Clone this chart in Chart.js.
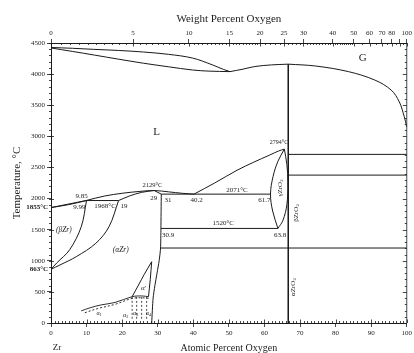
<!DOCTYPE html>
<html>
<head>
<meta charset="utf-8">
<script src="https://cdn.jsdelivr.net/npm/chart.js@4.4.0/dist/chart.umd.min.js"></script>
<style>
  html, body { margin: 0; padding: 0; background: #fff; }
  canvas { display: block; }
</style>
</head>
<body>
<canvas id="zro" width="414" height="353"></canvas>
<script>
// Zr–O phase diagram. Every boundary is a list of [atomic % O, temperature °C].

// Gas / liquid boundaries near the top
const gasDewLine     = [[0,4428],[6,4415],[12,4398],[19,4380],[26,4355],[33,4318],[39.8,4258],[45.3,4150],[48.5,4075],[50.3,4040]];
const gasBubbleLine  = [[0,4420],[6,4365],[12.2,4306],[19,4240],[26,4175],[33,4118],[39.8,4066],[44.4,4048],[50.3,4040]];
const gasOxideLine   = [[50.3,4040],[54,4080],[57.3,4122],[62,4148],[66.7,4160]];
const gasOxygenLine  = [[66.7,4160],[74.4,4130],[83.6,4040],[91,3905],[95.6,3745],[97.9,3555],[99.3,3315],[100,3150]];
const zirconiaLine   = [[66.7,4160],[66.7,0]];

// Metal-rich side
const liquidusBeta      = [[0,1855],[5,1912],[9.85,1968]];
const solidusBeta       = [[0,1855],[5,1903],[9.99,1968]];
const peritectic1968    = [[9.85,1968],[19,1968]];
const liquidusAlpha     = [[9.85,1968],[15,2040],[20,2085],[25,2115],[29,2129],[33,2108],[37,2084],[40.2,2071]];
const solidusAlpha      = [[19,1968],[22,2040],[25.5,2100],[29,2129]];
const solidusAlphaRight = [[29,2129],[31,2071]];
const betaSolvus        = [[9.99,1968],[8.5,1547],[5.25,1178],[1.6,964],[0,863]];
const alphaSolvusLeft   = [[19,1968],[16.3,1547],[12.6,1281],[7.1,1066],[2.5,932],[0,863]];
const alphaSolvusRight  = [[31,2071],[30.9,1520],[30.8,1205],[30.4,1000],[29.8,800],[29.2,600],[28.7,400],[28.3,0]];

// Invariant lines
const eutectic2071   = [[31,2071],[61.7,2071]];
const eutectoid1520  = [[30.9,1520],[63.8,1520]];
const oxideMelt2710  = [[66.7,2710],[100,2710]];
const oxide2377      = [[66.7,2377],[100,2377]];
const oxide1205      = [[30.8,1205],[100,1205]];

// Oxide liquidus and the γZrO2 field
const liquidusOxide  = [[40.2,2071],[46,2250],[52.3,2455],[57,2585],[61.5,2700],[64,2765],[65.6,2794]];
const gammaLeft      = [[65.6,2794],[63.8,2600],[62.4,2350],[61.7,2071],[62.3,1800],[63.8,1520]];
const gammaRight     = [[65.6,2794],[66.3,2550],[66.6,2250],[66.3,1900],[65.2,1650],[63.8,1520]];

// Low-temperature ordered suboxides
const alphaPrimeLeft  = [[28.3,985],[26.2,780],[24.6,610],[22.8,423]];
const alphaPrimeRight = [[28.3,985],[27.9,700],[27.4,423]];
const orderingSolid   = [[8.5,195],[11,245],[14,290],[18,330],[22.8,423],[25.5,435],[27.4,423]];
const orderingDashed  = [[9.5,165],[13,230],[18,300],[22.8,395],[25.5,405],[28,395]];
const orderingSplitComps = [22.8, 24.1, 25.5, 26.9];
const orderingSplitRange = [420, 70];

// Axis ticks
const tempTicks   = [0,500,1000,1500,2000,2500,3000,3500,4000,4500];
const atomicTicks = [0,10,20,30,40,50,60,70,80,90,100];
const weightTicks = [0,5,10,15,20,25,30,40,50,60,70,80,90,100];
const weightTickText = ['0','5','10','15','20','25','30','40','50','60','70','80','','100'];

// Molar masses for the weight-% scale
const M_ZR = 91.224, M_O = 15.999;
function weightToAtomic(w) {
  if (w >= 100) return 100;
  const nO = w / M_O, nZr = (100 - w) / M_ZR;
  return 100 * nO / (nO + nZr);
}

const xy = arr => arr.map(([x, y]) => ({x, y}));
const INK = '#1a1a1a';
const TXT = '#222';
const SERIF = '"Liberation Serif", "DejaVu Serif", serif';

function line(arr, opts = {}) {
  return Object.assign({
    data: xy(arr), showLine: true, pointRadius: 0, borderColor: INK,
    borderWidth: 1, tension: 0, fill: false
  }, opts);
}
const curve = (arr, o = {}) => line(arr, Object.assign({tension: 0.35}, o));

const datasets = [
  curve(gasDewLine), curve(gasBubbleLine), curve(gasOxideLine), curve(gasOxygenLine),
  line(zirconiaLine),
  curve(liquidusBeta), curve(solidusBeta), line(peritectic1968),
  curve(liquidusAlpha), curve(solidusAlpha), line(solidusAlphaRight),
  curve(betaSolvus), curve(alphaSolvusLeft), curve(alphaSolvusRight, {tension: 0.2}),
  line(eutectic2071), line(eutectoid1520), line(oxideMelt2710), line(oxide2377), line(oxide1205),
  curve(liquidusOxide), curve(gammaLeft), curve(gammaRight),
  curve(alphaPrimeLeft), curve(alphaPrimeRight),
  curve(orderingSolid, {borderWidth: 0.9}),
  curve(orderingDashed, {borderDash: [2, 2], borderWidth: 0.9}),
  ...orderingSplitComps.map(c => line([[c, orderingSplitRange[0]], [c, orderingSplitRange[1]]], {borderDash: [2, 2], borderWidth: 0.8}))
];

// Phase-field and invariant annotations, anchored in data coordinates
const phaseLabels = [
  {text: 'G', at: 87.6, T: 4254, size: 11},
  {text: 'L', at: 29.7, T: 3074, size: 11},
  {text: '2794°C', at: 64.1, T: 2909, size: 6},
  {text: '2129°C', at: 28.5, T: 2218, size: 6.5},
  {text: '9.85', at: 8.6, T: 2041},
  {text: '9.99', at: 8.0, T: 1864},
  {text: '1968°C', at: 15.2, T: 1872},
  {text: '19', at: 20.5, T: 1872},
  {text: '(βZr)', at: 3.6, T: 1495, size: 7.5, italic: true},
  {text: '(αZr)', at: 19.6, T: 1173, size: 7.5, italic: true},
  {text: '2071°C', at: 52.3, T: 2137},
  {text: '29', at: 28.9, T: 2009},
  {text: '31', at: 32.9, T: 1977},
  {text: '40.2', at: 40.9, T: 1977},
  {text: '61.7', at: 60.0, T: 1977},
  {text: '1520°C', at: 48.4, T: 1607},
  {text: '30.9', at: 32.9, T: 1414},
  {text: '63.8', at: 64.4, T: 1414},
  {text: 'γZrO', sub: '2', at: 64.4, T: 2170, rot: true},
  {text: 'βZrO', sub: '2', at: 68.8, T: 1768, rot: true},
  {text: 'αZrO', sub: '2', at: 68.0, T: 578, rot: true},
  {text: 'α′', at: 26.0, T: 562},
  {text: 'α', sub: '1', at: 13.5, T: 161, size: 6},
  {text: 'α', sub: '2', at: 21.0, T: 129, size: 6},
  {text: 'α', sub: '3', at: 23.8, T: 161, size: 6},
  {text: 'α', sub: '4', at: 27.4, T: 161, size: 6},
  {text: '1855°C', at: 0, T: 1855, bold: true, align: 'right', dx: -3},
  {text: '863°C', at: 0, T: 863, bold: true, align: 'right', dx: -3}
];

function fontStr(size, bold, italic) {
  return `${italic ? 'italic ' : ''}${bold ? 'bold ' : ''}${size}px ${SERIF}`;
}

function drawLabel(ctx, lab, px, py) {
  const size = lab.size || 7;
  const f = fontStr(size, lab.bold, lab.italic);
  const fs = fontStr(size * 0.7, lab.bold, lab.italic);
  ctx.font = f;
  const w1 = ctx.measureText(lab.text).width;
  ctx.font = fs;
  const w2 = lab.sub ? ctx.measureText(lab.sub).width : 0;
  const total = w1 + w2;
  ctx.save();
  ctx.translate(px + (lab.dx || 0), py);
  if (lab.rot) ctx.rotate(-Math.PI / 2);
  const x0 = lab.align === 'right' ? -total : -total / 2;
  ctx.fillStyle = TXT;
  ctx.textBaseline = 'middle';
  ctx.textAlign = 'left';
  ctx.font = f;
  ctx.fillText(lab.text, x0, 0);
  if (lab.sub) {
    ctx.font = fs;
    ctx.fillText(lab.sub, x0 + w1, size * 0.3);
  }
  ctx.restore();
}

const annotate = {
  id: 'annotate',
  afterDatasetsDraw(chart) {
    const {ctx, scales: {x, y}} = chart;
    phaseLabels.forEach(l => drawLabel(ctx, l, x.getPixelForValue(l.at), y.getPixelForValue(l.T)));
    // element symbol under the origin of the composition axis
    ctx.save();
    ctx.fillStyle = TXT;
    ctx.font = `9px ${SERIF}`;
    ctx.textAlign = 'center';
    ctx.textBaseline = 'middle';
    ctx.fillText('Zr', x.getPixelForValue(0) + 6, chart.chartArea.bottom + 25);
    ctx.restore();
  }
};

// Minor tick marks and the right-hand frame
const rulers = {
  id: 'rulers',
  afterDraw(chart) {
    const {ctx, chartArea: a, scales: {x, y, x2}} = chart;
    ctx.save();
    ctx.strokeStyle = INK;
    ctx.lineWidth = 0.8;
    ctx.beginPath();
    ctx.moveTo(a.right, a.top); ctx.lineTo(a.right, a.bottom);
    for (let T = 0; T <= 4500; T += 100) {
      const py = Math.round(y.getPixelForValue(T)) + 0.5;
      const major = T % 500 === 0;
      ctx.moveTo(a.left - 2, py); ctx.lineTo(a.left + (major ? 3 : 0), py);
      ctx.moveTo(a.right, py); ctx.lineTo(a.right - (major ? 4 : 2), py);
    }
    for (let c = 0; c <= 100; c += 1) {
      const px = Math.round(x.getPixelForValue(c)) + 0.5;
      const major = c % 10 === 0;
      ctx.moveTo(px, a.bottom); ctx.lineTo(px, a.bottom - (major ? 3.5 : 2));
    }
    const wMinor = [];
    for (let w = 0; w < 20; w += 0.5) wMinor.push(w);
    for (let w = 20; w < 50; w += 1) wMinor.push(w);
    for (let w = 50; w <= 100; w += 5) wMinor.push(w);
    wMinor.forEach(w => {
      const px = Math.round(x2.getPixelForValue(weightToAtomic(w))) + 0.5;
      const major = weightTicks.includes(w);
      ctx.moveTo(px, a.top); ctx.lineTo(px, a.top + (major ? 3.5 : 2));
    });
    ctx.stroke();
    ctx.restore();
  }
};

const tickFont = {family: SERIF, size: 7};

new Chart(document.getElementById('zro'), {
  type: 'scatter',
  data: {datasets},
  options: {
    responsive: false,
    animation: false,
    devicePixelRatio: 1,
    layout: {padding: {left: 0, right: 1.5, top: 0, bottom: 0}},
    plugins: {legend: {display: false}, tooltip: {enabled: false}},
    scales: {
      x: {
        type: 'linear', position: 'bottom', min: 0, max: 100,
        afterBuildTicks: s => { s.ticks = atomicTicks.map(v => ({value: v})); },
        afterFit: s => { s.height = 30; },
        ticks: {font: tickFont, color: TXT, padding: 2, maxRotation: 0, autoSkip: false,
                callback: v => String(v)},
        grid: {drawOnChartArea: false, tickLength: 4, color: INK, tickWidth: 0.8},
        border: {color: INK, width: 1},
        title: {display: true, text: 'Atomic Percent Oxygen', color: TXT,
                font: {family: SERIF, size: 10, lineHeight: 1}, padding: {top: 0, bottom: 0}}
      },
      x2: {
        type: 'linear', position: 'top', min: 0, max: 100,
        afterBuildTicks: s => { s.ticks = weightTicks.map(w => ({value: weightToAtomic(w)})); },
        afterFit: s => { s.height = 43; },
        ticks: {font: tickFont, color: TXT, padding: 2, maxRotation: 0, autoSkip: false,
                callback: (v, i) => weightTickText[i]},
        grid: {drawOnChartArea: false, tickLength: 4, color: INK, tickWidth: 0.8},
        border: {color: INK, width: 1},
        title: {display: true, text: 'Weight Percent Oxygen', color: TXT,
                font: {family: SERIF, size: 11, lineHeight: 1}, padding: {top: 14, bottom: 0}}
      },
      y: {
        type: 'linear', position: 'left', min: 0, max: 4500,
        afterBuildTicks: s => { s.ticks = tempTicks.map(v => ({value: v})); },
        afterFit: s => { s.width = 51; },
        ticks: {font: tickFont, color: TXT, padding: 2, autoSkip: false,
                callback: v => String(v)},
        grid: {drawOnChartArea: false, tickLength: 4, color: INK, tickWidth: 0.8},
        border: {color: INK, width: 1},
        title: {display: true, text: 'Temperature, °C', color: TXT,
                font: {family: SERIF, size: 11, lineHeight: 1}, padding: {top: 12, bottom: 0}}
      }
    }
  },
  plugins: [annotate, rulers]
});
</script>
</body>
</html>
